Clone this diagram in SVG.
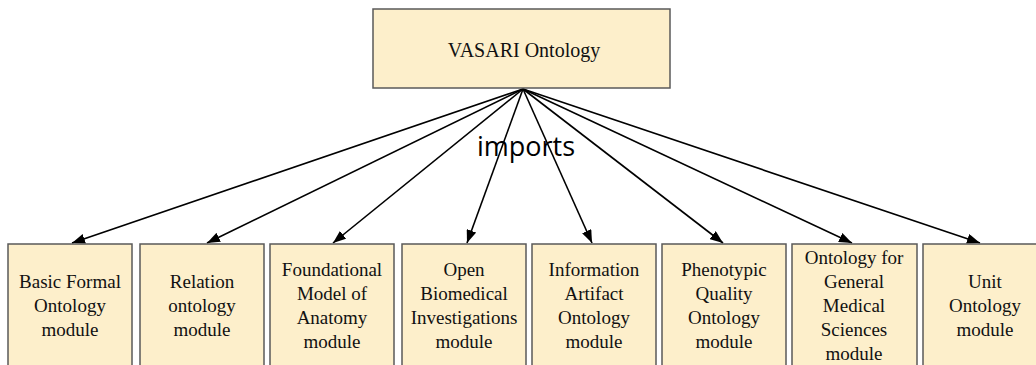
<svg xmlns="http://www.w3.org/2000/svg" width="1036" height="365" viewBox="0 0 1036 365">
<style>
.box{fill:#FDEFCB;stroke:#5a5a5a;stroke-width:1.5}
.c{stroke:#000;stroke-width:1.6;fill:none;marker-end:url(#ah)}
</style>
<defs>
<marker id="ah" markerUnits="userSpaceOnUse" markerWidth="14" markerHeight="10" refX="13" refY="5" orient="auto">
<path d="M0,0 L13,5 L0,10 z" fill="#000"/>
</marker>
</defs>
<rect width="1036" height="365" fill="#fff"/>
<g id="connectors">
<line class="c" x1="523" y1="89" x2="72" y2="243"/>
<line class="c" x1="523" y1="89" x2="207" y2="243"/>
<line class="c" x1="523" y1="89" x2="333" y2="243"/>
<line class="c" x1="523" y1="89" x2="467" y2="243"/>
<line class="c" x1="523" y1="89" x2="592" y2="243"/>
<line class="c" x1="523" y1="89" x2="723" y2="243"/>
<line class="c" x1="523" y1="89" x2="852" y2="243"/>
<line class="c" x1="523" y1="89" x2="980" y2="243"/>
<text x="526" y="156" font-family="Open Sans, Liberation Sans, sans-serif" font-size="27" fill="#000" text-anchor="middle">imports</text>
</g>
<g font-family="Liberation Serif, serif" font-size="19" fill="#111" text-anchor="middle">
<g id="vasari">
<rect class="box" x="373" y="9" width="297" height="79"/>
<text x="524" y="57" font-size="20">VASARI Ontology</text>
</g>
<g id="bfo">
<rect class="box" x="8" y="244" width="124" height="130"/>
<text x="70" y="288">Basic Formal</text>
<text x="70" y="312">Ontology</text>
<text x="70" y="336">module</text>
</g>
<g id="ro">
<rect class="box" x="140" y="244" width="124" height="130"/>
<text x="202" y="288">Relation</text>
<text x="202" y="312">ontology</text>
<text x="202" y="336">module</text>
</g>
<g id="fma">
<rect class="box" x="270" y="244" width="124" height="130"/>
<text x="332" y="276">Foundational</text>
<text x="332" y="300">Model of</text>
<text x="332" y="324">Anatomy</text>
<text x="332" y="348">module</text>
</g>
<g id="obi">
<rect class="box" x="402" y="244" width="124" height="130"/>
<text x="464" y="276">Open</text>
<text x="464" y="300">Biomedical</text>
<text x="464" y="324">Investigations</text>
<text x="464" y="348">module</text>
</g>
<g id="iao">
<rect class="box" x="532" y="244" width="124" height="130"/>
<text x="594" y="276">Information</text>
<text x="594" y="300">Artifact</text>
<text x="594" y="324">Ontology</text>
<text x="594" y="348">module</text>
</g>
<g id="pato">
<rect class="box" x="662" y="244" width="124" height="130"/>
<text x="724" y="276">Phenotypic</text>
<text x="724" y="300">Quality</text>
<text x="724" y="324">Ontology</text>
<text x="724" y="348">module</text>
</g>
<g id="ogms">
<rect class="box" x="792" y="244" width="125" height="130"/>
<text x="854" y="264">Ontology for</text>
<text x="854" y="288">General</text>
<text x="854" y="312">Medical</text>
<text x="854" y="336">Sciences</text>
<text x="854" y="360">module</text>
</g>
<g id="uo">
<rect class="box" x="923" y="244" width="125" height="130"/>
<text x="985" y="288">Unit</text>
<text x="985" y="312">Ontology</text>
<text x="985" y="336">module</text>
</g>
</g>
</svg>
